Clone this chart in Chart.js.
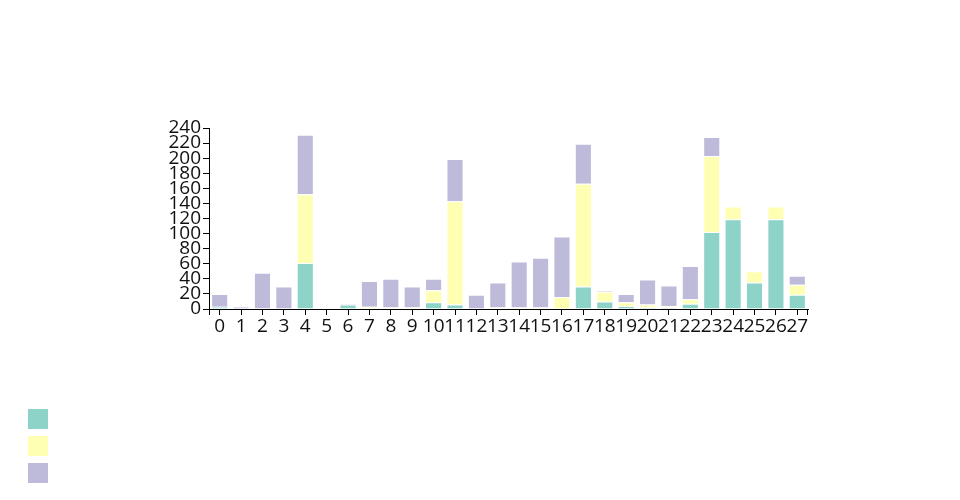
<!DOCTYPE html>
<html>
<head>
<meta charset="utf-8">
<script src="https://cdn.jsdelivr.net/npm/chart.js@4"></script>
<style>
  body { margin: 0; background: #fff; }
  #wrap { position: relative; width: 960px; height: 500px; }
  #legend { position: absolute; left: 28px; top: 409px; }
  #legend div { width: 20px; height: 20px; margin-bottom: 7px; }
</style>
</head>
<body>
<div id="wrap">
  <canvas id="myChart" width="960" height="500"></canvas>
  <div id="legend"></div>
</div>
<script>
var categories = ['0','1','2','3','4','5','6','7','8','9','10','11','12','13','14','15','16','17','18','19','20','21','22','23','24','25','26','27']
var seriesA = [3, 0, 0, 0, 61, 0, 6, 0, 0, 0, 9, 6, 0, 0, 0, 0, 0, 30, 10, 4, 2, 2, 7, 102, 119, 35, 119, 19]
var seriesB = [0, 0, 0, 0, 91, 0, 0, 3, 2, 2, 16, 137, 0, 2, 2, 2, 16, 136, 13, 5, 4, 2, 6, 101, 17, 15, 17, 13]
var seriesC = [17, 3, 48, 30, 79, 0, 1, 34, 38, 28, 15, 56, 19, 33, 61, 66, 80, 53, 1, 11, 33, 27, 44, 25, 0, 0, 0, 12]
var yTicks = [0, 20, 40, 60, 80, 100, 120, 140, 160, 180, 200, 220, 240]
var colors = ['#8dd3c7', '#ffffb3', '#bebada']

var tickFont = { family: 'Open Sans', size: 19 }

function makeSet(values, i) {
    return {
        label: '',
        data: values,
        backgroundColor: colors[i],
        borderColor: 'rgba(255,255,255,0.6)',
        borderWidth: 1,
        categoryPercentage: 1,
        barPercentage: 0.8
    }
}

// outer ticks at both ends of the x axis
var outerTicks = {
    id: 'outerTicks',
    afterDraw(chart) {
        var a = chart.chartArea, c = chart.ctx
        c.save()
        c.strokeStyle = '#000'
        c.lineWidth = 1
        c.beginPath()
        c.moveTo(a.left + 0.5, a.bottom); c.lineTo(a.left + 0.5, a.bottom + 6)
        c.moveTo(a.right - 0.5, a.bottom); c.lineTo(a.right - 0.5, a.bottom + 6)
        c.stroke()
        c.restore()
    }
}

const ctx = document.getElementById('myChart');
var myBars = new Chart(ctx, {
    type: 'bar',
    data: {
        labels: categories,
        datasets: [makeSet(seriesA, 0), makeSet(seriesB, 1), makeSet(seriesC, 2)]
    },
    options: {
        responsive: false,
        animation: false,
        layout: { padding: { left: 0, right: 152, top: 128, bottom: 0 } },
        plugins: { legend: { display: false }, tooltip: { enabled: false } },
        scales: {
            x: {
                stacked: true,
                afterFit: function(scale) { scale.height = 191 },
                grid: { display: true, drawOnChartArea: false, drawTicks: true, tickLength: 6, color: '#000', offset: false },
                border: { display: true, color: '#000', width: 1 },
                ticks: { autoSkip: false, maxRotation: 0, color: '#111', font: tickFont, padding: 0 }
            },
            y: {
                stacked: true,
                min: 0,
                max: yTicks[yTicks.length - 1],
                afterFit: function(scale) { scale.width = 209 },
                afterBuildTicks: function(scale) { scale.ticks = yTicks.map(v => ({ value: v })) },
                grid: { display: true, drawOnChartArea: false, drawTicks: true, tickLength: 6, color: '#000' },
                border: { display: true, color: '#000', width: 1 },
                ticks: { autoSkip: false, color: '#111', font: tickFont, padding: 2 }
            }
        }
    },
    plugins: [outerTicks]
});

var legend = document.getElementById('legend')
colors.forEach(c => {
    var d = document.createElement('div')
    d.style.background = c
    legend.appendChild(d)
})
</script>
</body>
</html>
